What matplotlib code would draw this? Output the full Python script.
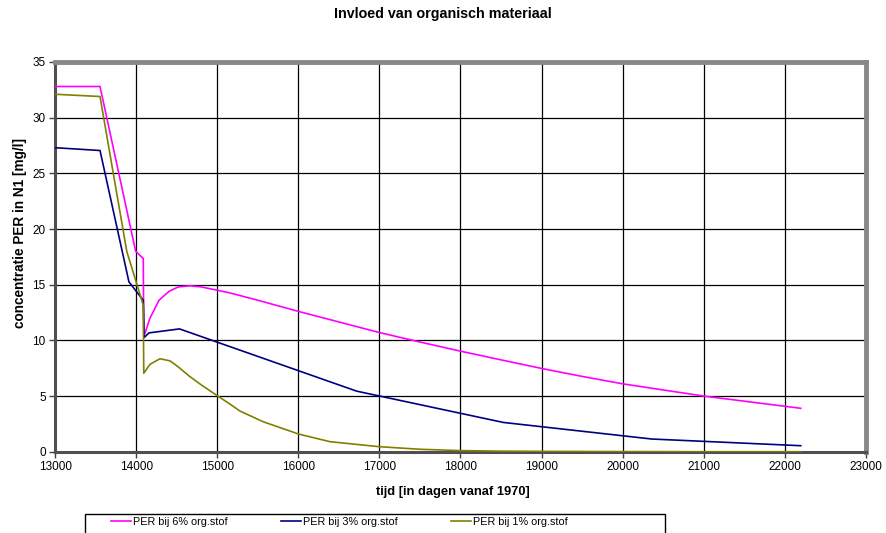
import matplotlib
matplotlib.use("Agg")
import matplotlib.pyplot as plt
from matplotlib.patches import Rectangle

plt.rcParams['font.family'] = ['Liberation Sans', 'DejaVu Sans']

title = "Invloed van organisch materiaal"
xlabel = "tijd [in dagen vanaf 1970]"
ylabel = "concentratie PER in N1 [mg/l]"

x6 = [13000, 13550, 13990, 14084, 14090, 14167, 14278, 14401, 14516, 14660, 14800,
      15000, 15154, 15500, 16000, 16500, 17000, 17500, 18000, 18500, 19000, 19475,
      20000, 20500, 21000, 21600, 22200]
y6 = [32.8, 32.8, 18.0, 17.35, 10.3, 12.0, 13.6, 14.4, 14.8, 14.9, 14.8,
      14.5, 14.26, 13.6, 12.6, 11.65, 10.7, 9.85, 9.03, 8.25, 7.48, 6.8,
      6.1, 5.55, 5.0, 4.45, 3.9]

x3 = [13000, 13550, 13907, 14084, 14096, 14154, 14531, 16718, 18528, 20361, 22200]
y3 = [27.3, 27.05, 15.25, 13.6, 10.26, 10.67, 11.03, 5.44, 2.63, 1.14, 0.54]

x1 = [13000, 13550, 13880, 14084, 14090, 14167, 14290, 14414, 14516, 14650, 14800,
      15000, 15154, 15278, 15565, 16000, 16389, 17000, 17500, 18000, 18500, 19000,
      20000, 21000, 22200]
y1 = [32.1, 31.9, 18.0, 13.16, 7.05, 7.85, 8.35, 8.16, 7.62, 6.8, 6.0,
      5.02, 4.28, 3.65, 2.69, 1.59, 0.9, 0.45, 0.22, 0.1, 0.05, 0.03,
      0.01, 0.0, 0.0]

series = [
    ("PER bij 6% org.stof", x6, y6, "#FF00FF"),
    ("PER bij 3% org.stof", x3, y3, "#000080"),
    ("PER bij 1% org.stof", x1, y1, "#808000"),
]

xticks = list(range(13000, 23001, 1000))
yticks = list(range(0, 36, 5))

fig = plt.figure(figsize=(8.86, 5.33), dpi=100)
ax = fig.add_axes([0.0626, 0.1525, 0.9143, 0.7312])

for label, xs, ys, c in series:
    ax.plot(xs, ys, color=c, lw=1.2, label=label, zorder=3)

ax.set_xlim(13000, 23000)
ax.set_ylim(0, 35)
ax.set_xticks(xticks)
ax.set_yticks(yticks)
ax.grid(True, color="black", lw=0.9, zorder=1)
ax.set_axisbelow(True)
ax.tick_params(axis='both', direction='out', length=4, width=1, labelsize=8.5,
               color='#404040', pad=3)
for s in ['left', 'bottom']:
    ax.spines[s].set_color('#505050')
    ax.spines[s].set_linewidth(2.2)
for s in ['top', 'right']:
    ax.spines[s].set_color('#888888')
    ax.spines[s].set_linewidth(3.5)

ax.set_xlabel(xlabel, fontsize=9.3, fontweight='bold')
ax.set_ylabel(ylabel, fontsize=9.8, fontweight='bold')
ax.xaxis.set_label_coords(0.491, -40 / 390, transform=ax.transAxes)
ax.yaxis.set_label_coords(-35.5 / 810, 0.56, transform=ax.transAxes)
ax.xaxis.label.set_va('center')
ax.yaxis.label.set_va('center')
fig.text(0.5, 1 - 14 / 533, title, ha='center', va='center', fontsize=10.3, fontweight='bold')

handles, labels = ax.get_legend_handles_labels()
leg = fig.legend(handles, labels, loc='center left', ncol=3, frameon=False,
                 bbox_to_anchor=(111 / 886, 1 - 522 / 533), borderpad=0,
                 borderaxespad=0, fontsize=7.8, handlelength=1.85,
                 handletextpad=0.2, columnspacing=4.9)
fig.patches.append(Rectangle((85 / 886, -0.02), 580 / 886, 0.02 + 1 - 513.5 / 533,
                             transform=fig.transFigure, fill=False,
                             edgecolor='black', lw=1))

fig.savefig("out.png", dpi=100)
